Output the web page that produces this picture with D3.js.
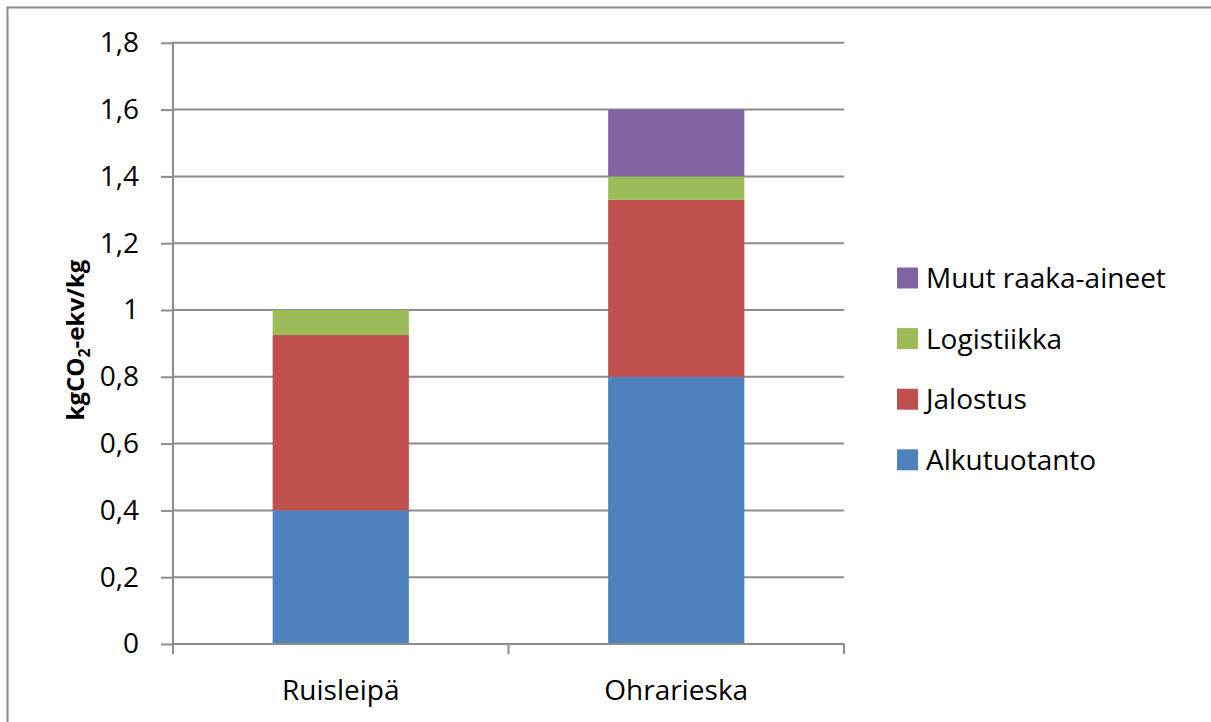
<!DOCTYPE html>
<html>
<head>
<meta charset="utf-8">
<script src="https://cdn.jsdelivr.net/npm/d3@7"></script>
<style>
  body { margin: 0; background: #fff; }
  text { font-family: "Open Sans", sans-serif; fill: #000; }
</style>
</head>
<body>
<div id="chart"></div>
<script>
// data
var categories = ["Ruisleipä", "Ohrarieska"]
var alkutuotanto = [0.4, 0.8]
var jalostus = [0.525, 0.53]
var logistiikka = [0.075, 0.07]
var muut = [0, 0.2]
var seriesNames = ["Alkutuotanto", "Jalostus", "Logistiikka", "Muut raaka-aineet"]
var seriesColors = ["#4F81BD", "#C0504D", "#9BBB59", "#8064A2"]
var yTicks = [0, 0.2, 0.4, 0.6, 0.8, 1, 1.2, 1.4, 1.6, 1.8]

var W = 1211, H = 722
var plotLeft = 173, plotRight = 844, plotTop = 42.8, plotBottom = 644

var rows = categories.map(function(c, i) {
  return {cat: c, "Alkutuotanto": alkutuotanto[i], "Jalostus": jalostus[i],
          "Logistiikka": logistiikka[i], "Muut raaka-aineet": muut[i]}
})
var stacked = d3.stack().keys(seriesNames)(rows)

var x = d3.scaleBand().domain(categories).range([plotLeft, plotRight])
  .paddingInner(0.594).paddingOuter(0.297)
var y = d3.scaleLinear().domain([0, 1.8]).range([plotBottom, plotTop])
var color = d3.scaleOrdinal().domain(seriesNames).range(seriesColors)

var svg = d3.select("#chart").append("svg")
  .attr("width", W).attr("height", H)

// outer chart border
svg.append("rect")
  .attr("x", 7.5).attr("y", 7.5)
  .attr("width", W).attr("height", H)
  .attr("fill", "none").attr("stroke", "#8c8c8c").attr("stroke-width", 2)

// gridlines
svg.append("g").selectAll("line")
  .data(yTicks.slice(1))
  .enter().append("line")
  .attr("x1", plotLeft).attr("x2", plotRight)
  .attr("y1", function(d) { return y(d) }).attr("y2", function(d) { return y(d) })
  .attr("stroke", "#8c8c8c").attr("stroke-width", 2)

// bars
svg.append("g").selectAll("g")
  .data(stacked)
  .enter().append("g")
  .attr("fill", function(d) { return color(d.key) })
  .selectAll("rect")
  .data(function(d) { return d })
  .enter().append("rect")
  .attr("x", function(d) { return x(d.data.cat) })
  .attr("width", x.bandwidth())
  .attr("y", function(d) { return y(d[1]) })
  .attr("height", function(d) { return y(d[0]) - y(d[1]) })

// y axis
var yAxis = svg.append("g")
  .attr("transform", "translate(" + plotLeft + ",0)")
  .call(d3.axisLeft(y).tickValues(yTicks).tickSizeInner(12).tickSizeOuter(0).tickPadding(22)
    .tickFormat(function(d) { return String(d).replace(".", ",") }))
yAxis.select(".domain").remove()
yAxis.selectAll("line").attr("stroke", "#8c8c8c").attr("stroke-width", 2)
yAxis.selectAll("text").style("font-size", "28px").style("font-family", "Open Sans").attr("fill", "#000")
svg.append("line")
  .attr("x1", plotLeft).attr("x2", plotLeft).attr("y1", plotTop - 1).attr("y2", plotBottom + 10)
  .attr("stroke", "#8c8c8c").attr("stroke-width", 2)

// x axis
svg.append("line")
  .attr("x1", plotLeft).attr("x2", plotRight).attr("y1", plotBottom).attr("y2", plotBottom)
  .attr("stroke", "#8c8c8c").attr("stroke-width", 2)
var bounds = d3.range(categories.length + 1).map(function(i) { return plotLeft + i * x.step() })
svg.append("g").selectAll("line")
  .data(bounds)
  .enter().append("line")
  .attr("x1", function(d) { return d }).attr("x2", function(d) { return d })
  .attr("y1", plotBottom).attr("y2", plotBottom + 10)
  .attr("stroke", "#8c8c8c").attr("stroke-width", 2)
svg.append("g").selectAll("text")
  .data(categories)
  .enter().append("text")
  .attr("x", function(d) { return x(d) + x.bandwidth() / 2 })
  .attr("y", 700)
  .attr("text-anchor", "middle")
  .style("font-size", "28px")
  .text(function(d) { return d })

// y axis title
var title = svg.append("text")
  .attr("transform", "translate(84,340) rotate(-90)")
  .attr("text-anchor", "middle")
  .style("font-size", "24px").style("font-weight", "bold")
title.append("tspan").text("kgCO")
title.append("tspan").attr("dy", 6).style("font-size", "16px").text("2")
title.append("tspan").attr("dy", -6).text("-ekv/kg")

// legend
var legend = svg.append("g").selectAll("g")
  .data(seriesNames.slice().reverse())
  .enter().append("g")
  .attr("transform", function(d, i) { return "translate(897," + (278 + i * 60.6) + ")" })
legend.append("rect")
  .attr("x", 0).attr("y", -10.5).attr("width", 21).attr("height", 21)
  .attr("fill", function(d) { return color(d) })
legend.append("text")
  .attr("x", 29).attr("y", 10)
  .style("font-size", "28px")
  .text(function(d) { return d })
</script>
</body>
</html>
